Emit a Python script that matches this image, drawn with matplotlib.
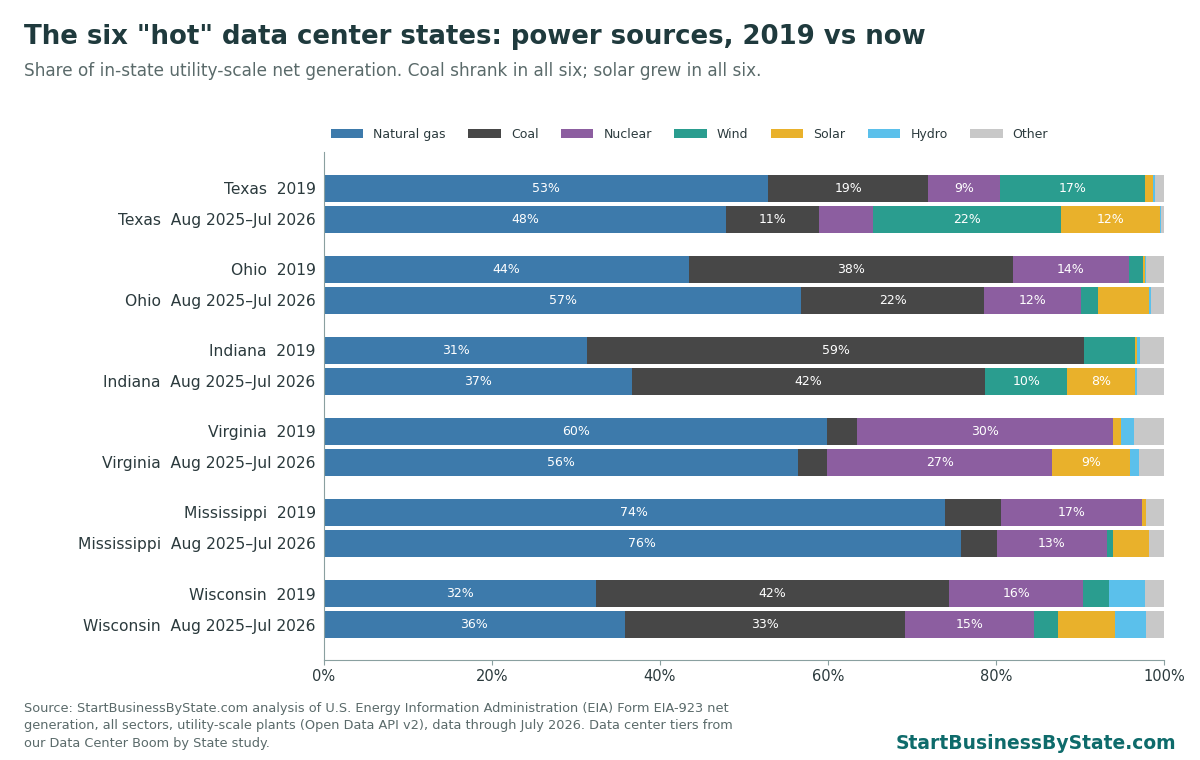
import matplotlib
matplotlib.use("Agg")
import matplotlib.pyplot as plt
import numpy as np

states = ["Texas", "Ohio", "Indiana", "Virginia", "Mississippi", "Wisconsin"]
periods = ["2019", "Aug 2025–Jul 2026"]
sources = ["Natural gas", "Coal", "Nuclear", "Wind", "Solar", "Hydro", "Other"]
colors = ["#3d7aab", "#474747", "#8c5ea0", "#2a9d8f", "#e9b12b", "#5bc0eb", "#c8c8c8"]

# rows: state x period, columns: sources (percent)
natural_gas = [52.9, 47.9, 43.5, 56.8, 31.3, 36.7, 59.9, 56.4, 73.9, 75.8, 32.4, 35.8]
coal        = [19.0, 11.0, 38.5, 21.8, 59.2, 42.0,  3.6,  3.5,  6.7,  4.3, 42.0, 33.4]
nuclear     = [ 8.6,  6.5, 13.8, 11.5,  0.0,  0.0, 30.4, 26.8, 16.8, 13.1, 16.0, 15.3]
wind        = [17.2, 22.3,  1.7,  2.0,  6.0,  9.8,  0.0,  0.0,  0.0,  0.7,  3.0,  2.9]
solar       = [ 1.0, 11.8,  0.2,  6.1,  0.3,  8.0,  1.0,  9.3,  0.5,  4.3,  0.0,  6.8]
hydro       = [ 0.2,  0.2,  0.2,  0.2,  0.3,  0.3,  1.5,  1.0,  0.0,  0.0,  4.3,  3.7]
other       = [ 1.1,  0.3,  2.1,  1.6,  2.9,  3.2,  3.6,  3.0,  2.1,  1.8,  2.3,  2.1]

data = np.array([natural_gas, coal, nuclear, wind, solar, hydro, other])

fig = plt.figure(figsize=(12, 7.6), dpi=100)
ax = fig.add_axes([0.27, 0.132, 0.70, 0.668])

ys, labels = [], []
for i, s in enumerate(states):
    for j, p in enumerate(periods):
        ys.append(i * 2.61 + j)
        labels.append(f"{s}  {p}")
ys = np.array(ys)

left = np.zeros(len(ys))
for k, src in enumerate(sources):
    vals = data[k]
    ax.barh(ys, vals, left=left, height=0.87, color=colors[k], label=src, linewidth=0)
    for y, v, l in zip(ys, vals, left):
        if v >= 7.5:
            ax.text(l + v / 2, y, f"{v:.0f}%", ha="center", va="center",
                    color="white", fontsize=9)
    left += vals

ax.set_yticks(ys)
ax.set_yticklabels(labels, fontsize=11.2, color="#2b3a3d")
ax.set_ylim(ys[-1] + 1.13, ys[0] - 1.16)
ax.set_xlim(0, 100)
ax.set_xticks(np.arange(0, 101, 20))
ax.set_xticklabels([f"{t}%" for t in range(0, 101, 20)], fontsize=10.5, color="#2b3a3d")
ax.tick_params(axis="y", length=0, pad=6)
ax.tick_params(axis="x", colors="#8aa0a0", labelcolor="#2b3a3d")
for sp in ["top", "right"]:
    ax.spines[sp].set_visible(False)
ax.spines["left"].set_color("#8aa0a0")
ax.spines["bottom"].set_color("#8aa0a0")

ax.legend(loc="lower center", bbox_to_anchor=(0.435, 1.0), ncol=7, frameon=False,
          fontsize=9, handlelength=2.6, handleheight=0.8, columnspacing=1.8,
          labelcolor="#2b3a3d")

fig.text(0.02, 0.951, 'The six "hot" data center states: power sources, 2019 vs now',
         fontsize=18.7, fontweight="bold", color="#1f3a3d", va="center")
fig.text(0.02, 0.907, "Share of in-state utility-scale net generation. Coal shrank in all six; solar grew in all six.",
         fontsize=12.2, color="#5a6a6a", va="center")
fig.text(0.02, 0.045, "Source: StartBusinessByState.com analysis of U.S. Energy Information Administration (EIA) Form EIA-923 net\n"
         "generation, all sectors, utility-scale plants (Open Data API v2), data through July 2026. Data center tiers from\n"
         "our Data Center Boom by State study.", fontsize=9.3, color="#5a6a6a", va="center", linespacing=1.45)
fig.text(0.98, 0.022, "StartBusinessByState.com", fontsize=13.5, fontweight="bold",
         color="#0e6b6b", ha="right", va="center")

fig.savefig("out.png", dpi=100)
